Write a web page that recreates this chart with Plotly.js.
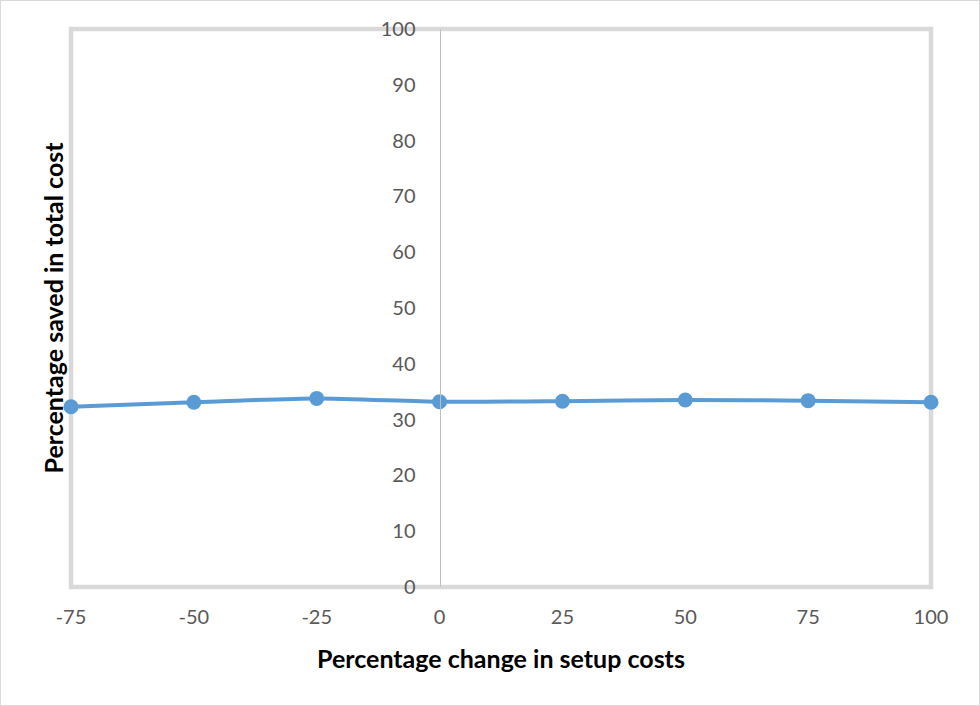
<!DOCTYPE html>
<html>
<head>
<meta charset="utf-8">
<script src="https://cdn.plot.ly/plotly-3.0.1.min.js"></script>
<style>
  html, body { margin: 0; padding: 0; background: #fff; }
  #wrap { position: relative; width: 980px; height: 706px; }
  #chart { width: 980px; height: 706px; }
  #edge { position: absolute; left: 0; top: 0; width: 980px; height: 706px;
          box-sizing: border-box; border: 1px solid #d9d9d9; pointer-events: none; }
</style>
</head>
<body>
<div id="wrap">
  <div id="chart"></div>
  <div id="edge"></div>
</div>
<script>
// Sensitivity of total-cost savings to changes in setup costs
const setupChange = [-75, -50, -25, 0, 25, 50, 75, 100];
const savedPct = [32.3, 33.1, 33.8, 33.2, 33.3, 33.5, 33.4, 33.1];
const xTicks = [-75, -50, -25, 0, 25, 50, 75, 100];
const yTicks = [0, 10, 20, 30, 40, 50, 60, 70, 80, 90, 100];

const xTitle = 'Percentage change in setup costs';
const yTitle = 'Percentage saved in total cost';

const tickFont = { family: 'Lato, "Open Sans", sans-serif', size: 20, color: '#595959' };
const titleFont = { family: 'Lato, "Open Sans", sans-serif', size: 25, color: '#000000', weight: 'bold' };

const xMin = -75, xMax = 100;

const trace = {
  x: setupChange,
  y: savedPct,
  type: 'scatter',
  mode: 'lines+markers',
  line: { color: '#5b9bd5', width: 4, shape: 'spline', smoothing: 0.6 },
  marker: { color: '#5b9bd5', size: 15 },
  cliponaxis: false,
  hoverinfo: 'skip'
};

const layout = {
  width: 980,
  height: 706,
  paper_bgcolor: '#ffffff',
  plot_bgcolor: '#ffffff',
  showlegend: false,
  margin: { l: 71, r: 49, t: 29, b: 119 },
  xaxis: {
    range: [xMin, xMax],
    tickmode: 'array',
    tickvals: xTicks,
    ticktext: xTicks.map(String),
    showgrid: false,
    zeroline: false,
    showline: false,
    ticks: '',
    ticklabelstandoff: 16,
    tickfont: tickFont
  },
  yaxis: {
    range: [0, 100],
    tickmode: 'array',
    tickvals: yTicks,
    ticktext: yTicks.map(String),
    anchor: 'free',
    position: (0 - xMin) / (xMax - xMin),
    showgrid: false,
    zeroline: false,
    showline: true,
    linecolor: '#bfbfbf',
    linewidth: 1.3,
    ticks: '',
    ticklabelstandoff: 20,
    tickfont: tickFont
  },
  shapes: [{
    type: 'rect',
    xref: 'paper', yref: 'paper',
    x0: 0, x1: 1, y0: 0, y1: 1,
    layer: 'below',
    line: { color: '#d9d9d9', width: 4.5 },
    fillcolor: 'rgba(0,0,0,0)'
  }],
  annotations: [
    {
      text: xTitle,
      xref: 'paper', yref: 'paper',
      x: 0.5, y: -0.128,
      xanchor: 'center', yanchor: 'middle',
      showarrow: false,
      font: titleFont
    },
    {
      text: yTitle,
      xref: 'paper', yref: 'paper',
      x: -0.0215, y: 0.5,
      xanchor: 'center', yanchor: 'middle',
      textangle: -90,
      showarrow: false,
      font: titleFont
    }
  ]
};

Plotly.newPlot('chart', [trace], layout, { displayModeBar: false, staticPlot: true });
</script>
</body>
</html>
